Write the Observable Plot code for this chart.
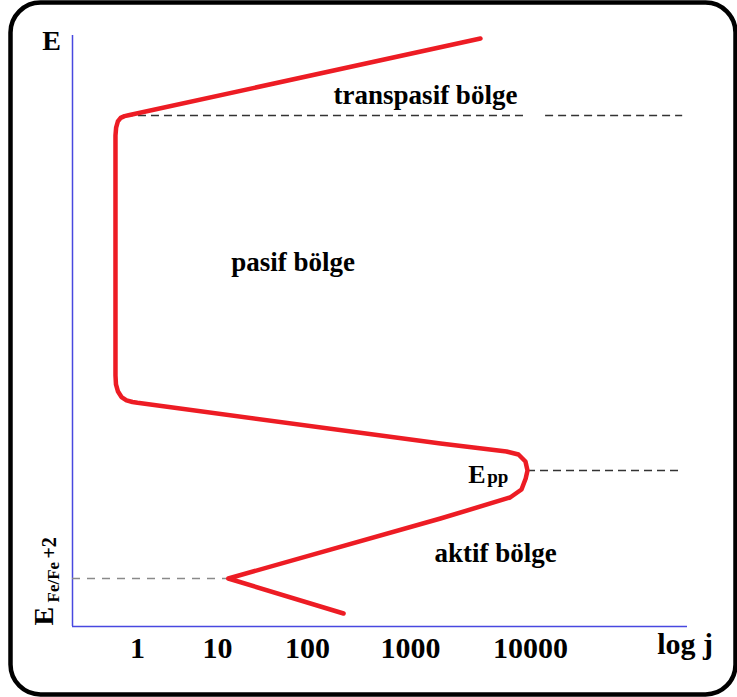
<!DOCTYPE html>
<html><head><meta charset="utf-8">
<script src="https://cdn.jsdelivr.net/npm/d3@7"></script>
<script src="https://cdn.jsdelivr.net/npm/@observablehq/plot@0.6"></script>
<style>html,body{margin:0;padding:0;background:#fff}</style>
</head><body><div id="chart"></div>
<script>
// Polarization curve of iron: log j (decades) vs potential E (arbitrary units)
const curveLogJ = [2.35, 1.12, 3.25, 3.83, 3.925, 3.96, 3.975, 3.958, 3.9, 3.8, 3.25, 0.0, -0.062, -0.135, -0.197, -0.240, -0.265, -0.271, -0.271, -0.263, -0.242, -0.207, -0.160, -0.111, 3.583];
const curveE    = [2.2, 8.12, 18.27, 21.83, 23.18, 25.04, 26.4, 27.92, 29.1, 29.61, 30.96, 37.85, 37.99, 38.27, 38.83, 39.76, 40.95, 42.47, 83.08, 84.43, 85.45, 86.07, 86.36, 86.5, 99.49];

// x-axis ticks
const tickValues = [0, 1, 2, 3, 4];
const tickLabels = ["1", "10", "100", "1000", "10000"];

// dashed guide lines: E level, start and end in log j
const guideE    = [86.46, 86.46, 26.4, 8.12];
const guideFrom = [-0.148, 4.125, 3.975, -0.8];
const guideTo   = [3.975, 5.26, 5.26, 1.12];
const guideKind = ["dark", "dark", "dark", "gray"];

// region labels
const labelText = ["transpasif bölge", "pasif bölge", "aktif bölge"];
const labelX    = [3.125, 1.84, 3.71];
const labelE    = [89.85, 61.6, 12.35];

const xDomain = [-0.8, 0, 1, 2, 3, 4, 5.3];
const xRange  = [72, 137, 217, 307, 410, 530, 687];

const curve = curveLogJ.map((x, i) => ({x, E: curveE[i]}));
const ticks = tickValues.map((v, i) => ({v, label: tickLabels[i]}));
const guides = guideE.map((E, i) => ({E, x1: guideFrom[i], x2: guideTo[i], kind: guideKind[i]}));
const labels = labelText.map((t, i) => ({t, x: labelX[i], E: labelE[i]}));

const blue = "#4848e0";
const font = "'Liberation Serif', 'Times New Roman', serif";

const chart = Plot.plot({
  width: 737,
  height: 697,
  margin: 0,
  style: {fontFamily: font, background: "white", color: "black"},
  x: {type: "linear", domain: xDomain, range: xRange, axis: null},
  y: {domain: [0, 100], range: [626, 35], axis: null},
  marks: [
    Plot.frame({rx: 30, ry: 30, stroke: "black", strokeWidth: 4.5, insetLeft: 10, insetTop: 2, insetRight: 2, insetBottom: 3}),
    // axes
    Plot.ruleX([xDomain[0]], {y1: 0, y2: 100, stroke: blue, strokeWidth: 1.5}),
    Plot.ruleY([0], {x1: xDomain[0], x2: xDomain[xDomain.length - 1], stroke: blue, strokeWidth: 1.5}),
    // dashed guides
    Plot.ruleY(guides.filter(d => d.kind === "dark"), {y: "E", x1: "x1", x2: "x2", stroke: "#333", strokeWidth: 1.6, strokeDasharray: "8,5"}),
    Plot.ruleY(guides.filter(d => d.kind === "gray"), {y: "E", x1: "x1", x2: "x2", stroke: "#8a8a8a", strokeWidth: 1.6, strokeDasharray: "8,7"}),
    // curve
    Plot.line(curve, {x: "x", y: "E", stroke: "#ed1c24", strokeWidth: 4.5, strokeLinejoin: "round", strokeLinecap: "round"}),
    // tick labels
    Plot.text(ticks, {x: "v", y: 0, text: "label", dy: 22, fontSize: 30, fontWeight: "bold", lineAnchor: "middle"}),
    Plot.text(["log j"], {x: 5.28, y: 0, text: d => d, dy: 18, fontSize: 30, fontWeight: "bold"}),
    Plot.text(["E"], {x: -1.058, y: 98.98, text: d => d, fontSize: 28, fontWeight: "bold"}),
    // region labels
    Plot.text(labels, {x: "x", y: "E", text: "t", fontSize: 27, fontWeight: "bold"}),
    // Epp
    Plot.text(["E"], {x: 3.625, y: 24.28, text: d => d, fontSize: 26, fontWeight: "bold", textAnchor: "end", lineAnchor: "bottom"}),
    Plot.text(["pp"], {x: 3.64, y: 24.28, text: d => d, fontSize: 19, fontWeight: "bold", textAnchor: "start", lineAnchor: "bottom"}),
    // E Fe/Fe+2 (rotated)
    Plot.text(["E"], {x: -1.034, y: 0.17, text: d => d, rotate: -90, fontSize: 28, fontWeight: "bold", textAnchor: "start", lineAnchor: "bottom"}),
    Plot.text(["Fe/Fe"], {x: -0.972, y: 4.06, text: d => d, rotate: -90, fontSize: 17, fontWeight: "bold", textAnchor: "start", lineAnchor: "bottom"}),
    Plot.text(["+2"], {x: -1.009, y: 11.5, text: d => d, rotate: -90, fontSize: 20, fontWeight: "bold", textAnchor: "start", lineAnchor: "bottom"})
  ]
});
document.getElementById("chart").appendChild(chart);
</script>
</body></html>
